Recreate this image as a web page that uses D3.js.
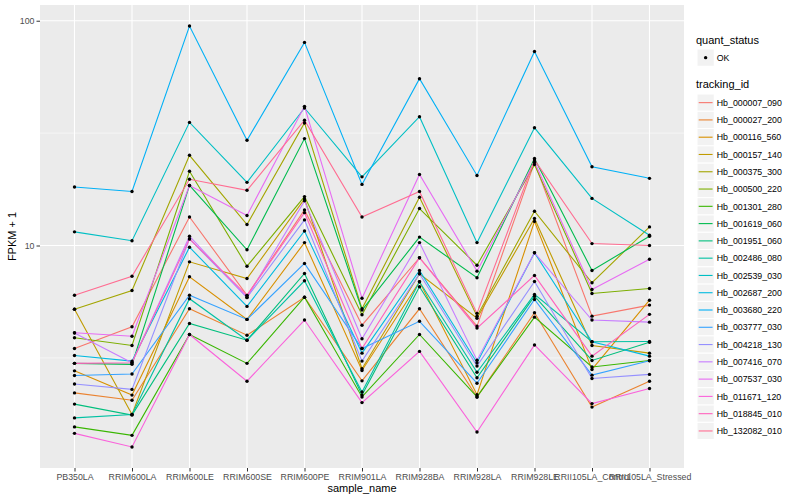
<!DOCTYPE html>
<html>
<head>
<meta charset="utf-8">
<script src="https://cdn.jsdelivr.net/npm/d3@7"></script>
<style>
  body { margin: 0; background: #fff; }
  text { font-family: "Liberation Sans", Arial, sans-serif; }
</style>
</head>
<body>
<div id="chart"></div>
<script>
// sample names on the x axis
var samples = ["PB350LA", "RRIM600LA", "RRIM600LE", "RRIM600SE", "RRIM600PE", "RRIM901LA",
  "RRIM928BA", "RRIM928LA", "RRIM928LE", "RRII105LA_Control", "RRII105LA_Stressed"];

var trackingIds = ["Hb_000007_090", "Hb_000027_200", "Hb_000116_560", "Hb_000157_140", "Hb_000375_300",
  "Hb_000500_220", "Hb_001301_280", "Hb_001619_060", "Hb_001951_060", "Hb_002486_080",
  "Hb_002539_030", "Hb_002687_200", "Hb_003680_220", "Hb_003777_030", "Hb_004218_130",
  "Hb_007416_070", "Hb_007537_030", "Hb_011671_120", "Hb_018845_010", "Hb_132082_010"];

// FPKM + 1 per sample, one array per tracking id
var hb_000007_090 = [3.48, 4.35, 13.4, 6.0, 14.4, 4.42, 8.82, 4.38, 23.4, 4.85, 5.43];
var hb_000027_200 = [2.21, 2.05, 5.23, 3.99, 5.89, 2.50, 5.23, 2.12, 5.02, 1.91, 2.49];
var hb_000116_560 = [2.77, 2.16, 7.26, 4.69, 10.3, 2.78, 6.90, 2.17, 12.8, 2.81, 5.71];
var hb_000157_140 = [5.21, 1.77, 8.46, 7.13, 16.1, 2.83, 7.49, 4.75, 13.2, 3.59, 3.32];
var hb_000375_300 = [5.21, 6.31, 25.2, 12.4, 35.1, 5.23, 16.4, 4.85, 14.2, 6.83, 12.1];
var hb_000500_220 = [3.89, 3.59, 21.4, 8.09, 16.5, 4.92, 14.6, 8.17, 22.9, 6.12, 6.44];
var hb_001301_280 = [1.56, 1.43, 4.02, 2.99, 5.89, 2.12, 4.02, 2.12, 4.80, 2.88, 3.08];
var hb_001619_060 = [2.99, 2.96, 18.5, 9.57, 29.9, 5.16, 10.9, 7.19, 24.4, 7.74, 11.0];
var hb_001951_060 = [1.97, 1.76, 4.50, 3.79, 7.51, 2.16, 6.55, 2.58, 5.95, 3.08, 3.71];
var hb_002486_080 = [1.71, 1.77, 5.80, 3.79, 6.97, 2.23, 6.90, 2.73, 6.06, 3.73, 3.74];
var hb_002539_030 = [11.5, 10.5, 35.3, 19.1, 40.9, 20.2, 37.4, 10.3, 33.4, 16.2, 11.1];
var hb_002687_200 = [3.24, 3.06, 9.83, 5.36, 11.6, 3.32, 7.74, 3.01, 9.28, 3.73, 3.22];
var hb_003680_220 = [18.2, 17.4, 94.7, 29.4, 80.1, 18.7, 55.2, 20.5, 73.0, 22.4, 19.9];
var hb_003777_030 = [2.64, 2.68, 6.01, 4.69, 8.32, 3.48, 4.60, 2.44, 5.75, 2.65, 3.07];
var hb_004218_130 = [2.42, 2.29, 10.7, 5.87, 13.0, 3.06, 7.49, 2.91, 6.92, 2.56, 2.67];
var hb_007416_070 = [4.08, 3.01, 11.0, 5.87, 15.8, 3.85, 10.3, 3.09, 9.28, 4.66, 4.56];
var hb_007537_030 = [4.09, 3.95, 18.5, 13.6, 41.6, 5.83, 20.7, 7.69, 23.6, 6.37, 8.69];
var hb_011671_120 = [1.46, 1.27, 4.02, 2.49, 4.66, 2.00, 3.38, 1.48, 3.61, 1.98, 2.31];
var hb_018845_010 = [2.99, 3.01, 10.7, 6.0, 14.0, 3.48, 8.82, 4.29, 7.36, 3.22, 4.94];
var hb_132082_010 = [6.01, 7.30, 19.7, 17.6, 36.1, 13.4, 17.4, 4.99, 24.0, 10.2, 10.0];

var seriesValues = [hb_000007_090, hb_000027_200, hb_000116_560, hb_000157_140, hb_000375_300,
  hb_000500_220, hb_001301_280, hb_001619_060, hb_001951_060, hb_002486_080,
  hb_002539_030, hb_002687_200, hb_003680_220, hb_003777_030, hb_004218_130,
  hb_007416_070, hb_007537_030, hb_011671_120, hb_018845_010, hb_132082_010];

var quantStatus = ["OK"];
var yMajorTicks = [10, 100];

// ggplot default hue palette for 20 groups
var palette = ["#F8766D", "#EA8331", "#D89000", "#C09B00", "#A3A500", "#7CAE00", "#39B600",
  "#00BB4E", "#00BF7D", "#00C1A3", "#00BFC4", "#00BAE0", "#00B0F6", "#35A2FF", "#9590FF",
  "#C77CFF", "#E76BF3", "#FA62DB", "#FF62BC", "#FF6C91"];

var svgWidth = 800;
var svgHeight = 500;
var margin = { top: 5, right: 116, bottom: 32, left: 40 };
var width = svgWidth - margin.left - margin.right;
var height = svgHeight - margin.top - margin.bottom;

var svg = d3.select("#chart")
  .append("svg")
  .attr("width", svgWidth)
  .attr("height", svgHeight);

var chartGroup = svg.append("g")
  .attr("transform", `translate(${margin.left}, ${margin.top})`);

// scales
var xScale = d3.scalePoint()
  .domain(samples)
  .range([0, width])
  .padding(0.6);

var allValues = d3.merge(seriesValues);
var logLo = Math.log10(d3.min(allValues));
var logHi = Math.log10(d3.max(allValues));
var pad = (logHi - logLo) * 0.05;
var yScale = d3.scaleLog()
  .domain([Math.pow(10, logLo - pad), Math.pow(10, logHi + pad)])
  .range([height, 0]);

var colorScale = d3.scaleOrdinal()
  .domain(trackingIds)
  .range(palette);

// panel background and grid
chartGroup.append("rect")
  .attr("width", width)
  .attr("height", height)
  .attr("fill", "#EBEBEB");

var minorTicks = [Math.sqrt(10), Math.pow(10, 1.5)];
chartGroup.selectAll(".minor")
  .data(minorTicks)
  .enter()
  .append("line")
  .attr("x1", 0)
  .attr("x2", width)
  .attr("y1", d => yScale(d))
  .attr("y2", d => yScale(d))
  .attr("stroke", "#fff")
  .attr("stroke-width", 0.55);

chartGroup.selectAll(".major")
  .data(yMajorTicks)
  .enter()
  .append("line")
  .attr("x1", 0)
  .attr("x2", width)
  .attr("y1", d => yScale(d))
  .attr("y2", d => yScale(d))
  .attr("stroke", "#fff")
  .attr("stroke-width", 1.1);

chartGroup.selectAll(".vgrid")
  .data(samples)
  .enter()
  .append("line")
  .attr("x1", d => xScale(d))
  .attr("x2", d => xScale(d))
  .attr("y1", 0)
  .attr("y2", height)
  .attr("stroke", "#fff")
  .attr("stroke-width", 1.1);

// lines
var line = d3.line()
  .x((d, i) => xScale(samples[i]))
  .y(d => yScale(d));

chartGroup.selectAll(".series")
  .data(seriesValues)
  .enter()
  .append("path")
  .attr("d", d => line(d))
  .attr("fill", "none")
  .attr("stroke", (d, i) => colorScale(trackingIds[i]))
  .attr("stroke-width", 1.1);

// points
seriesValues.forEach(function(vals) {
  chartGroup.append("g")
    .selectAll("circle")
    .data(vals)
    .enter()
    .append("circle")
    .attr("cx", (d, i) => xScale(samples[i]))
    .attr("cy", d => yScale(d))
    .attr("r", 1.7)
    .attr("fill", "#000");
});

// axes
var bottomAxis = d3.axisBottom(xScale).tickSize(3.5).tickPadding(2);
var leftAxis = d3.axisLeft(yScale).tickValues(yMajorTicks).tickFormat(d3.format("d")).tickSize(3.5).tickPadding(2);

var xAxisG = chartGroup.append("g")
  .attr("transform", `translate(0, ${height})`)
  .call(bottomAxis);
var yAxisG = chartGroup.append("g")
  .call(leftAxis);

[xAxisG, yAxisG].forEach(function(g) {
  g.select(".domain").remove();
  g.selectAll(".tick line").attr("stroke", "#333");
  g.selectAll(".tick text")
    .attr("fill", "#4D4D4D")
    .style("font-size", "8.8px")
    .style("font-family", "'Liberation Sans', Arial, sans-serif");
});

// axis titles
chartGroup.append("text")
  .attr("x", width / 2)
  .attr("y", height + 24)
  .attr("text-anchor", "middle")
  .style("font-size", "11px")
  .text("sample_name");

chartGroup.append("text")
  .attr("transform", "rotate(-90)")
  .attr("x", -height / 2)
  .attr("y", -margin.left + 16)
  .attr("text-anchor", "middle")
  .style("font-size", "11px")
  .text("FPKM + 1");

// legends
var legendX = 697;
var keySize = 17.28;
var legend = svg.append("g");

legend.append("text")
  .attr("x", legendX - 1)
  .attr("y", 43.5)
  .style("font-size", "11px")
  .text("quant_status");

var qsKey = legend.selectAll(".qs")
  .data(quantStatus)
  .enter()
  .append("g")
  .attr("transform", (d, i) => `translate(${legendX}, ${49 + i * keySize})`);
qsKey.append("rect")
  .attr("width", keySize)
  .attr("height", keySize)
  .attr("fill", "#F2F2F2")
  .attr("stroke", "#fff")
  .attr("stroke-width", 1);
qsKey.append("circle")
  .attr("cx", keySize / 2)
  .attr("cy", keySize / 2)
  .attr("r", 1.7)
  .attr("fill", "#000");
qsKey.append("text")
  .attr("x", keySize + 2.5)
  .attr("y", keySize / 2 + 3.2)
  .style("font-size", "8.8px")
  .text(d => d);

legend.append("text")
  .attr("x", legendX - 1)
  .attr("y", 88)
  .style("font-size", "11px")
  .text("tracking_id");

var idKey = legend.selectAll(".tid")
  .data(trackingIds)
  .enter()
  .append("g")
  .attr("transform", (d, i) => `translate(${legendX}, ${94 + i * keySize})`);
idKey.append("rect")
  .attr("width", keySize)
  .attr("height", keySize)
  .attr("fill", "#F2F2F2")
  .attr("stroke", "#fff")
  .attr("stroke-width", 1);
idKey.append("line")
  .attr("x1", 1.7)
  .attr("x2", keySize - 1.7)
  .attr("y1", keySize / 2)
  .attr("y2", keySize / 2)
  .attr("stroke", d => colorScale(d))
  .attr("stroke-width", 1.1);
idKey.append("text")
  .attr("x", keySize + 2.5)
  .attr("y", keySize / 2 + 3.2)
  .style("font-size", "8.8px")
  .text(d => d);
</script>
</body>
</html>
